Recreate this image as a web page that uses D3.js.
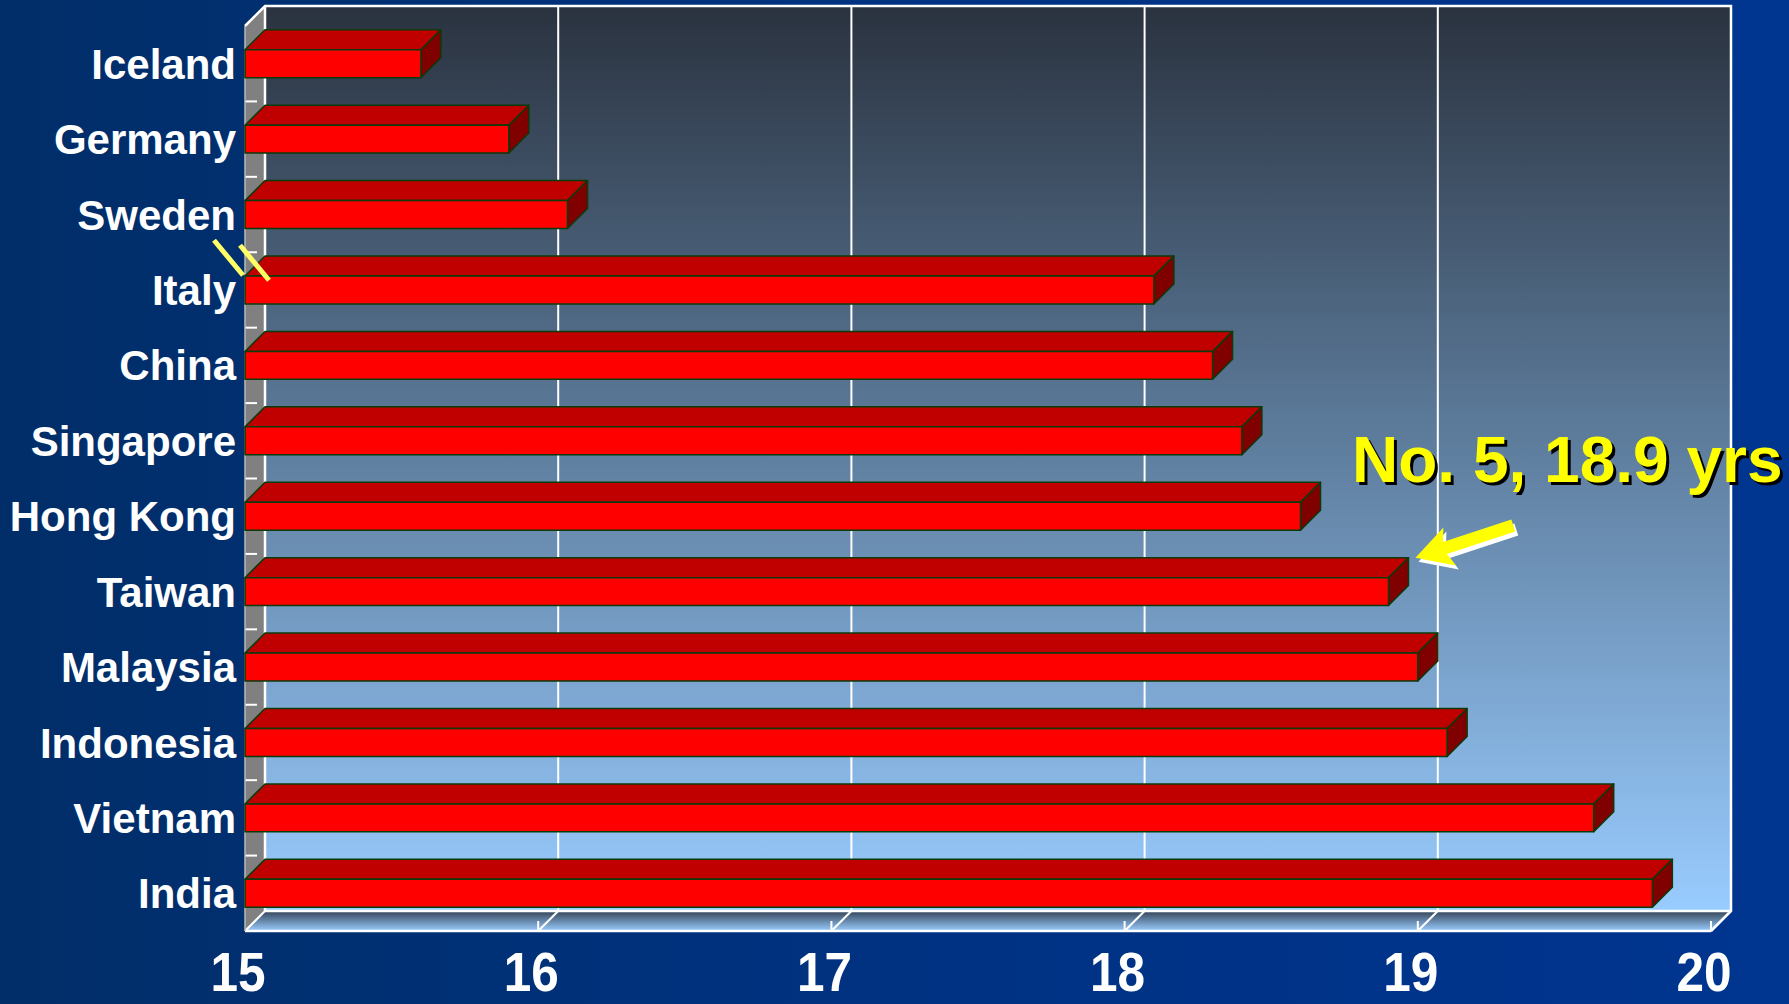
<!DOCTYPE html>
<html>
<head>
<meta charset="utf-8">
<script src="https://cdn.jsdelivr.net/npm/d3@7"></script>
<style>
  html, body { margin: 0; padding: 0; background: #003388; }
  svg { display: block; }
  text { font-family: "Liberation Sans", Arial, Helvetica, sans-serif; font-weight: bold; }
</style>
</head>
<body>
<svg id="chart" width="1789" height="1004"></svg>
<script>
// Age (years), one bar per country, top to bottom
const countries = ["Iceland", "Germany", "Sweden", "Italy", "China", "Singapore",
                   "Hong Kong", "Taiwan", "Malaysia", "Indonesia", "Vietnam", "India"];
const values = [15.6, 15.9, 16.1, 18.1, 18.3, 18.4, 18.6, 18.9, 19.0, 19.1, 19.6, 19.8];
const xTicks = [15, 16, 17, 18, 19, 20];
const highlight = { country: "Taiwan", rank: 5, value: 18.9 };

const W = 1789, H = 1004;
const DX = 20, DY = -20;            // oblique depth offset of the 3D box
const front = { top: 26, bottom: 931 };

const svg = d3.select("#chart");
const defs = svg.append("defs");

// page background
const bg = defs.append("linearGradient").attr("id", "bg").attr("x1", 0).attr("x2", 1).attr("y1", 0).attr("y2", 0);
bg.append("stop").attr("offset", 0).attr("stop-color", "#012e68");
bg.append("stop").attr("offset", 0.5).attr("stop-color", "#003282");
bg.append("stop").attr("offset", 1).attr("stop-color", "#003590");

const wall = defs.append("linearGradient").attr("id", "wall").attr("x1", 0).attr("x2", 0).attr("y1", 0).attr("y2", 1);
wall.append("stop").attr("offset", 0).attr("stop-color", "#2a323f");
wall.append("stop").attr("offset", 0.45).attr("stop-color", "#5a7897");
wall.append("stop").attr("offset", 1).attr("stop-color", "#99ccff");

const floorG = defs.append("linearGradient").attr("id", "floor").attr("x1", 0).attr("x2", 0).attr("y1", 0).attr("y2", 1);
floorG.append("stop").attr("offset", 0).attr("stop-color", "#344458");
floorG.append("stop").attr("offset", 1).attr("stop-color", "#9acdff");

svg.append("rect").attr("width", W).attr("height", H).attr("fill", "url(#bg)");

const x = d3.scaleLinear().domain([15, 20]).range([245, 1711]);
const y = d3.scaleBand().domain(countries).range([front.top, front.bottom])
  .paddingInner(0.63).paddingOuter(0.315);
const bw = y.bandwidth();
const step = y.step();

const bx0 = x(15) + DX, bx1 = x(20) + DX;
const by0 = front.top + DY, by1 = front.bottom + DY;

const pts = a => a.map(p => p.join(",")).join(" ");

// back wall
svg.append("rect").attr("x", bx0).attr("y", by0).attr("width", bx1 - bx0).attr("height", by1 - by0)
  .attr("fill", "url(#wall)");

// vertical gridlines on the back wall
svg.append("g").selectAll("line").data(xTicks.slice(1, -1)).join("line")
  .attr("x1", d => x(d) + DX).attr("x2", d => x(d) + DX)
  .attr("y1", by0).attr("y2", by1)
  .attr("stroke", "#ffffff").attr("stroke-width", 2);

// left side wall
svg.append("polygon")
  .attr("points", pts([[x(15), front.top], [bx0, by0], [bx0, by1], [x(15), front.bottom]]))
  .attr("fill", "#808080");
svg.append("g").selectAll("line").data(d3.range(1, countries.length)).join("line")
  .attr("x1", x(15)).attr("x2", x(15) + 12)
  .attr("y1", i => front.top + i * step).attr("y2", i => front.top + i * step)
  .attr("stroke", "#ffffff").attr("stroke-width", 2);

// floor
svg.append("polygon")
  .attr("points", pts([[bx0, by1], [bx1, by1], [x(20), front.bottom], [x(15), front.bottom]]))
  .attr("fill", "url(#floor)");
const floorTicks = svg.append("g").attr("stroke", "#ffffff").attr("stroke-width", 2);
floorTicks.selectAll("line.diag").data(xTicks).join("line").attr("class", "diag")
  .attr("x1", d => x(d) + DX).attr("y1", by1).attr("x2", d => x(d)).attr("y2", front.bottom);
floorTicks.selectAll("line.tick").data(xTicks.slice(1)).join("line").attr("class", "tick")
  .attr("x1", d => x(d)).attr("y1", front.bottom).attr("x2", d => x(d)).attr("y2", front.bottom - 10);

// box outline
const edges = svg.append("g").attr("stroke", "#ffffff").attr("stroke-width", 2.5).attr("fill", "none");
edges.append("polyline").attr("points", pts([[x(15), front.top], [bx0, by0], [bx1, by0], [bx1, by1], [x(20), front.bottom]]));
edges.append("line").attr("x1", bx0).attr("y1", by0).attr("x2", bx0).attr("y2", by1);
edges.append("line").attr("x1", bx0).attr("y1", by1).attr("x2", bx1).attr("y2", by1);
edges.append("line").attr("x1", x(15)).attr("y1", front.bottom).attr("x2", x(20)).attr("y2", front.bottom);
edges.append("line").attr("x1", x(15)).attr("y1", front.top).attr("x2", x(15)).attr("y2", front.bottom)
  .attr("stroke", "#b8b8b8").attr("stroke-width", 1.5);

// 3D bars
const data = countries.map((c, i) => ({ c, v: values[i] }));
const bars = svg.append("g").selectAll("g").data(data).join("g")
  .attr("stroke", "#0b3a0b").attr("stroke-width", 1.5).attr("stroke-linejoin", "round");
bars.append("polygon").attr("fill", "#c00000")
  .attr("points", d => {
    const x0 = x(15), x1 = x(d.v), t = y(d.c);
    return pts([[x0, t], [x1, t], [x1 + DX, t + DY], [x0 + DX, t + DY]]);
  });
bars.append("polygon").attr("fill", "#800000")
  .attr("points", d => {
    const x1 = x(d.v), t = y(d.c);
    return pts([[x1, t], [x1 + DX, t + DY], [x1 + DX, t + bw + DY], [x1, t + bw]]);
  });
bars.append("rect").attr("fill", "#ff0000")
  .attr("x", x(15)).attr("y", d => y(d.c))
  .attr("width", d => x(d.v) - x(15)).attr("height", bw);

// category labels
svg.append("g").selectAll("text").data(countries).join("text")
  .attr("x", x(15) - 9).attr("y", d => y(d) + bw / 2)
  .attr("dy", "0.36em").attr("text-anchor", "end")
  .attr("fill", "#ffffff").attr("font-size", 42)
  .text(d => d);

// value axis labels (slightly condensed)
svg.append("g").selectAll("text").data(xTicks).join("text")
  .attr("transform", d => `translate(${x(d) - 7},991) scale(0.9,1)`)
  .attr("text-anchor", "middle").attr("fill", "#ffffff").attr("font-size", 55)
  .text(d => d);

// axis break marks between Sweden and Italy
const brk = y("Italy") - (step - bw) / 2 + 5;
svg.append("g").attr("stroke", "#ffff66").attr("stroke-width", 5).selectAll("line")
  .data([x(15) - 16, x(15) + 10]).join("line")
  .attr("x1", d => d - 15).attr("y1", (d, i) => brk - 17 + i * 5)
  .attr("x2", d => d + 14).attr("y2", (d, i) => brk + 18 + i * 5);

// highlight annotation: arrow pointing at the bar end
const tip = [x(highlight.value) + DX + 7, y(highlight.country) + DY];
const ang = Math.atan2(-32, 97);
const ux = Math.cos(ang), uy = Math.sin(ang), nx = -uy, ny = ux;
const L = 103, HL = 36, HW = 20, SW = 6.3;
const P = (a, b) => [tip[0] + ux * a + nx * b, tip[1] + uy * a + ny * b];
const arrowPts = [P(0, 0), P(HL, HW), P(HL - 5, SW), P(L, SW), P(L, -SW), P(HL - 5, -SW), P(HL, -HW)];
svg.append("polygon").attr("points", pts(arrowPts)).attr("fill", "#ffffff").attr("transform", "translate(3,4)");
svg.append("polygon").attr("points", pts(arrowPts)).attr("fill", "#ffff00");

const label = `No. ${highlight.rank}, ${highlight.value} yrs`;
svg.append("text").attr("x", 1355).attr("y", 485).attr("fill", "#000000").attr("font-size", 64).text(label);
svg.append("text").attr("x", 1352).attr("y", 482).attr("fill", "#ffff00").attr("font-size", 64).text(label);
</script>
</body>
</html>
